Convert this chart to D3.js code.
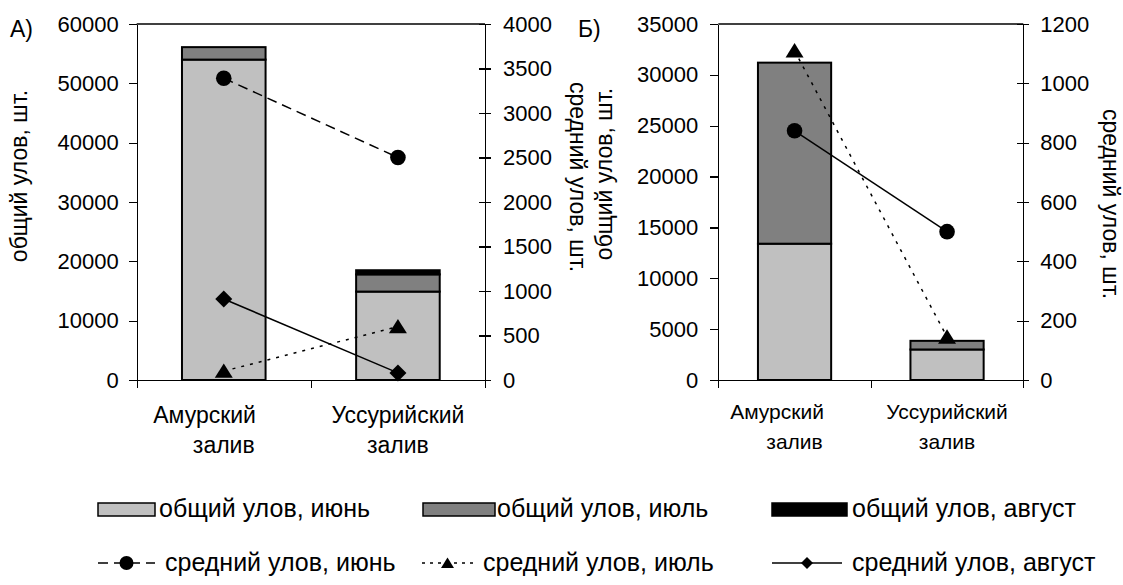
<!DOCTYPE html>
<html>
<head>
<meta charset="utf-8">
<script src="https://cdn.jsdelivr.net/npm/d3@7"></script>
<style>
	body { margin: 0; background: #fff; }
	svg { display: block; font-family: Arial, "Liberation Sans", sans-serif; }
	.axis path, .axis line { stroke: #000; stroke-width: 1.3px; shape-rendering: crispEdges; }
	.axis text { fill: #000; font-size: 22px; font-family: Arial, "Liberation Sans", sans-serif; }
</style>
</head>
<body>
<svg id="svg-port" width="1123" height="585"></svg>
<script>
// categories (trailing spaces kept as in the source label)
var regionLines = [["Амурский\u00a0\u00a0\u00a0\u00a0\u00a0\u00a0", "залив"], ["Уссурийский", "залив"]];

// panel A - total catch, pcs
var totalA_june = [54000, 14900];
var totalA_july = [2100, 2900];
var totalA_aug = [0, 700];
// panel A - mean catch, pcs
var avgA_june = [3390, 2500];
var avgA_july = [100, 600];
var avgA_aug = [910, 80];

// panel B
var totalB_june = [13400, 3000];
var totalB_july = [17800, 850];
var totalB_aug = [0, 0];
var avgB_june = [840, 500];
var avgB_july = [1110, 145];

var leftTicksA = [0, 10000, 20000, 30000, 40000, 50000, 60000];
var rightTicksA = [0, 500, 1000, 1500, 2000, 2500, 3000, 3500, 4000];
var leftTicksB = [0, 5000, 10000, 15000, 20000, 25000, 30000, 35000];
var rightTicksB = [0, 200, 400, 600, 800, 1000, 1200];

var totalLabels = ["общий улов, июнь", "общий улов, июль", "общий улов, август"];
var meanLabels = ["средний улов, июнь", "средний улов, июль", "средний улов, август"];
var yTitleLeft = "общий улов, шт.";
var yTitleRight = "средний улов, шт.";

var barColors = ['#c0c0c0', '#808080', '#000000'];

var svg = d3.select('#svg-port');
var fmt = d3.format('d');

function marker(g, type, x, y, s) {
	if (type === 'circle') {
		g.append('circle').attr('cx', x).attr('cy', y).attr('r', s).attr('fill', '#000');
	} else if (type === 'triangle') {
		g.append('path')
			.attr('d', 'M' + x + ',' + (y - s * 0.85) + 'L' + (x + s) + ',' + (y + s * 0.75) + 'L' + (x - s) + ',' + (y + s * 0.75) + 'Z')
			.attr('fill', '#000');
	} else {
		g.append('path')
			.attr('d', 'M' + x + ',' + (y - s) + 'L' + (x + s) + ',' + y + 'L' + x + ',' + (y + s) + 'L' + (x - s) + ',' + y + 'Z')
			.attr('fill', '#000');
	}
}

function drawPanel(p) {
	var g = svg.append('g');

	var xScale = d3.scaleBand()
		.domain([0, 1])
		.range([p.x0, p.x1])
		.paddingInner(0.52)
		.paddingOuter(0.26);

	var yLeft = d3.scaleLinear().domain([0, p.leftTicks[p.leftTicks.length - 1]]).range([p.bottom, p.top]);
	var yRight = d3.scaleLinear().domain([0, p.rightTicks[p.rightTicks.length - 1]]).range([p.bottom, p.top]);

	// stacked bars
	var stackData = [0, 1].map(function (i) {
		return { june: p.june[i], july: p.july[i], aug: p.aug[i] };
	});
	var series = d3.stack().keys(['june', 'july', 'aug'])(stackData);

	series.forEach(function (s, k) {
		g.append('g').selectAll('rect')
			.data(s.filter(function (d) { return d[1] - d[0] > 0; }))
			.enter()
			.append('rect')
			.attr('x', function (d) { return xScale(stackData.indexOf(d.data)); })
			.attr('y', function (d) { return yLeft(d[1]); })
			.attr('width', xScale.bandwidth())
			.attr('height', function (d) { return yLeft(d[0]) - yLeft(d[1]); })
			.attr('fill', barColors[k])
			.attr('stroke', '#000')
			.attr('stroke-width', 2);
	});

	// frame top line
	g.append('line')
		.attr('x1', p.x0).attr('x2', p.x1)
		.attr('y1', p.top).attr('y2', p.top)
		.attr('stroke', '#000').attr('stroke-width', 1.3);

	// axes
	var leftAxis = d3.axisLeft(yLeft).tickValues(p.leftTicks).tickFormat(fmt)
		.tickSize(8).tickSizeOuter(0).tickPadding(p.leftPad);
	g.append('g').attr('class', 'axis').attr('transform', 'translate(' + [p.x0, 0] + ')').call(leftAxis);

	var rightAxis = d3.axisRight(yRight).tickValues(p.rightTicks).tickFormat(fmt)
		.tickSize(6).tickSizeOuter(0).tickPadding(p.rightPad);
	var ra = g.append('g').attr('class', 'axis').attr('transform', 'translate(' + [p.x1, 0] + ')').call(rightAxis);
	ra.selectAll('.tick line').attr('x1', -6);

	var xLin = d3.scaleLinear().domain([0, 2]).range([p.x0, p.x1]);
	var bottomAxis = d3.axisBottom(xLin).tickValues([0, 1, 2]).tickFormat('').tickSize(8).tickSizeOuter(0);
	g.append('g').attr('class', 'axis').attr('transform', 'translate(' + [0, p.bottom] + ')').call(bottomAxis);

	// category labels
	regionLines.forEach(function (lines, i) {
		var cx = xScale(i) + xScale.bandwidth() / 2;
		lines.forEach(function (ln, j) {
			g.append('text')
				.attr('x', cx)
				.attr('y', p.catY + j * 30)
				.attr('text-anchor', 'middle')
				.attr('font-size', p.catSize)
				.text(ln);
		});
	});

	// mean catch lines
	p.lines.forEach(function (ln) {
		var pts = ln.values.map(function (v, i) {
			return [xScale(i) + xScale.bandwidth() / 2, yRight(v)];
		});
		g.append('path')
			.attr('d', d3.line()(pts))
			.attr('fill', 'none')
			.attr('stroke', '#000')
			.attr('stroke-width', 1.5)
			.attr('stroke-dasharray', ln.dash);
		pts.forEach(function (pt) {
			marker(g, ln.marker, pt[0], pt[1], ln.size);
		});
	});

	// titles
	g.append('text')
		.attr('transform', 'translate(' + [p.leftTitleX, p.leftTitleY] + ') rotate(-90)')
		.attr('text-anchor', 'middle')
		.attr('font-size', 23)
		.text(yTitleLeft);
	g.append('text')
		.attr('transform', 'translate(' + [p.rightTitleX, p.rightTitleY] + ') rotate(90)')
		.attr('text-anchor', 'middle')
		.attr('font-size', 23)
		.text(yTitleRight);
	g.append('text')
		.attr('x', p.tagX).attr('y', 37)
		.attr('font-size', 23)
		.text(p.tag);
}

drawPanel({
	tag: 'А)', tagX: 10,
	x0: 136.7, x1: 485, top: 24, bottom: 380,
	leftTicks: leftTicksA, rightTicks: rightTicksA, leftPad: 10, rightPad: 12,
	june: totalA_june, july: totalA_july, aug: totalA_aug,
	catY: 423, catSize: 23,
	lines: [
		{ values: avgA_june, dash: '10,6', marker: 'circle', size: 7.8 },
		{ values: avgA_july, dash: '3,6', marker: 'triangle', size: 9 },
		{ values: avgA_aug, dash: null, marker: 'diamond', size: 8.5 }
	],
	leftTitleX: 27, leftTitleY: 176,
	rightTitleX: 570, rightTitleY: 177
});

drawPanel({
	tag: 'Б)', tagX: 578,
	x0: 718.3, x1: 1023.3, top: 24, bottom: 380,
	leftTicks: leftTicksB, rightTicks: rightTicksB, leftPad: 12, rightPad: 11,
	june: totalB_june, july: totalB_july, aug: totalB_aug,
	catY: 419, catSize: 21,
	lines: [
		{ values: avgB_june, dash: null, marker: 'circle', size: 7.8 },
		{ values: avgB_july, dash: '3,6', marker: 'triangle', size: 9 }
	],
	leftTitleX: 612, leftTitleY: 174,
	rightTitleX: 1103, rightTitleY: 204
});

// legend
var legend = svg.append('g').attr('font-size', 25);
var boxX = [98, 423, 772];
var boxW = [57, 72, 75];
var boxTextX = [159, 497, 852];
totalLabels.forEach(function (t, i) {
	legend.append('rect')
		.attr('x', boxX[i]).attr('y', 503)
		.attr('width', boxW[i]).attr('height', 13)
		.attr('fill', barColors[i])
		.attr('stroke', '#000').attr('stroke-width', 1.5);
	legend.append('text').attr('x', boxTextX[i]).attr('y', 517).text(t);
});

var lineX = [[98, 155], [422, 473], [772, 842]];
var lineText = [165, 483, 852];
var lineDash = ['10,6', '3,5', null];
var lineMarker = ['circle', 'triangle', 'diamond'];
var lineMarkerSize = [7, 6.5, 6];
meanLabels.forEach(function (t, i) {
	legend.append('line')
		.attr('x1', lineX[i][0]).attr('x2', lineX[i][1])
		.attr('y1', 563).attr('y2', 563)
		.attr('stroke', '#000').attr('stroke-width', 1.5)
		.attr('stroke-dasharray', lineDash[i]);
	marker(legend, lineMarker[i], (lineX[i][0] + lineX[i][1]) / 2, 563, lineMarkerSize[i]);
	legend.append('text').attr('x', lineText[i]).attr('y', 571).text(t);
});
</script>
</body>
</html>
